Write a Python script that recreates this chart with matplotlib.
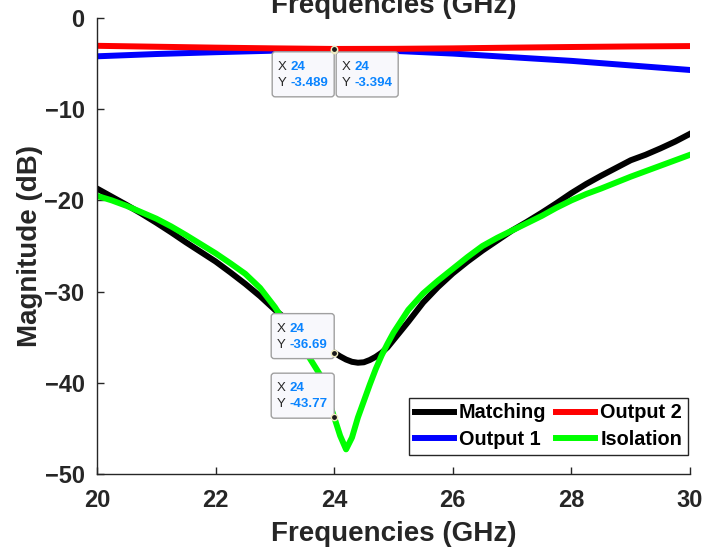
import matplotlib
matplotlib.use("Agg")
import matplotlib.pyplot as plt
from matplotlib.patches import FancyBboxPatch
from matplotlib.transforms import ScaledTranslation

plt.rcParams['font.family'] = ['Liberation Sans', 'DejaVu Sans']

# frequencies (GHz) for matching / isolation curves
freq = [20, 20.25, 20.5, 20.75, 21, 21.25, 21.5, 21.75, 22, 22.25, 22.5, 22.75, 23,
        23.25, 23.5, 23.75, 24, 24.1, 24.2, 24.3, 24.4, 24.5, 24.6, 24.7, 24.8, 24.9,
        25, 25.25, 25.5, 25.75, 26, 26.25, 26.5, 26.75, 27, 27.25, 27.5, 27.75, 28,
        28.25, 28.5, 28.75, 29, 29.25, 29.5, 29.75, 30]
matching = [-18.7, -19.6, -20.5, -21.45, -22.45, -23.5, -24.6, -25.65, -26.7, -27.9,
            -29.15, -30.5, -32.0, -33.35, -34.6, -35.7, -36.69, -37.1, -37.45, -37.7,
            -37.8, -37.75, -37.5, -37.15, -36.7, -36.1, -35.3, -33.3, -31.2, -29.5,
            -28.0, -26.7, -25.5, -24.4, -23.3, -22.35, -21.35, -20.3, -19.2, -18.2,
            -17.3, -16.45, -15.6, -15.0, -14.3, -13.55, -12.7]
isolation = [-19.5, -20.0, -20.6, -21.3, -22.0, -22.85, -23.8, -24.8, -25.8, -26.9,
             -28.05, -29.6, -31.7, -34.2, -36.4, -39.0, -43.77, -45.8, -47.3, -46.0,
             -43.8, -42.0, -40.2, -38.5, -37.0, -35.7, -34.5, -32.0, -30.2, -28.8,
             -27.5, -26.2, -25.0, -24.1, -23.3, -22.5, -21.7, -20.8, -20.0, -19.3,
             -18.7, -18.05, -17.4, -16.8, -16.2, -15.6, -15.0]

# frequencies (GHz) for the two outputs
freq_out = [20, 21, 22, 23, 24, 25, 26, 27, 28, 29, 30]
output1 = [-4.2, -3.95, -3.75, -3.58, -3.489, -3.6, -3.9, -4.3, -4.7, -5.2, -5.7]
output2 = [-3.05, -3.15, -3.25, -3.33, -3.394, -3.38, -3.33, -3.25, -3.18, -3.12, -3.08]

# data tips: (x, y, box left px, box bottom px, width px)
tips = [(24, -3.489, -62, -47, 62),
        (24, -3.394, 2, -48, 62),
        (24, -36.69, -63, -6, 63),
        (24, -43.77, -63, -1, 63)]

fig = plt.figure(figsize=(7.12, 5.52), dpi=100)
ax = fig.add_axes([97 / 712, 78 / 552, 593 / 712, 456 / 552])

lw = 4.3
ax.plot(freq, matching, color='black', lw=lw, label='Matching')
ax.plot(freq_out, output1, color='#0000ff', lw=lw, label='Output 1')
ax.plot(freq_out, output2, color='#ff0000', lw=lw, label='Output 2')
ax.plot(freq, isolation, color='#00ff00', lw=lw, label='Isolation')

ax.set_xlim(20, 30)
ax.set_ylim(-50, 0)
ax.set_xticks([20, 22, 24, 26, 28, 30])
ax.set_yticks([-50, -40, -30, -20, -10, 0])
ax.spines['top'].set_visible(False)
ax.spines['right'].set_visible(False)
for s in ['left', 'bottom']:
    ax.spines[s].set_color('#262626')
    ax.spines[s].set_linewidth(1.0)
ax.tick_params(direction='in', length=5, width=1, color='#262626',
               labelsize=17, labelcolor='#262626')
ax.tick_params(axis='x', pad=11)
ax.tick_params(axis='y', pad=9)
for lab in ax.get_xticklabels() + ax.get_yticklabels():
    lab.set_fontweight('bold')

ax.set_xlabel('Frequencies (GHz)', fontsize=20, fontweight='bold', color='#262626', labelpad=6)
ax.set_ylabel('Magnitude (dB)', fontsize=20, fontweight='bold', color='#262626', labelpad=1)
fig.text((97 + 690) / 2 / 712, 1 - 12.7 / 552, 'Frequencies (GHz)', fontsize=20,
         fontweight='bold', color='#262626', ha='center', va='baseline')

leg = ax.legend(ncol=2, loc='lower right', bbox_to_anchor=(0.9966, 0.0417),
                borderaxespad=0, prop={'weight': 'bold', 'size': 14.3},
                handlelength=1.95, handletextpad=0.26, columnspacing=0.5,
                labelspacing=0.38, borderpad=0.3, fancybox=False, framealpha=1)
leg.get_frame().set_edgecolor('#262626')
leg.get_frame().set_linewidth(1.0)

# MATLAB-style data tips
for x, y, bx, by, bw in tips:
    off = fig.dpi_scale_trans + ScaledTranslation(x, y, ax.transData)
    box = FancyBboxPatch((bx / fig.dpi, by / fig.dpi), bw / fig.dpi, 45 / fig.dpi,
                         boxstyle='round,pad=0,rounding_size=0.03', transform=off,
                         facecolor='#f8f8fc', edgecolor='#a0a0a0', lw=1, zorder=5,
                         clip_on=False)
    ax.add_patch(box)
    top = by + 45
    for dy, name, val in [(15, 'X', '24'), (31, 'Y', '%g' % y)]:
        ax.annotate(name, (x, y), xytext=(bx + 6, top - dy), textcoords='offset pixels',
                    fontsize=9.5, color='#262626', va='center', ha='left', zorder=6)
        ax.annotate(val, (x, y), xytext=(bx + 18, top - dy), textcoords='offset pixels',
                    fontsize=9.5, color='#0a84ff', fontweight='bold', va='center',
                    ha='left', zorder=6)
    ax.plot(x, y, 'o', ms=4.5, mfc='#1a1a1a', mec='#f0ecc0', mew=1, zorder=7, clip_on=False)

fig.savefig('out.png', dpi=100)
